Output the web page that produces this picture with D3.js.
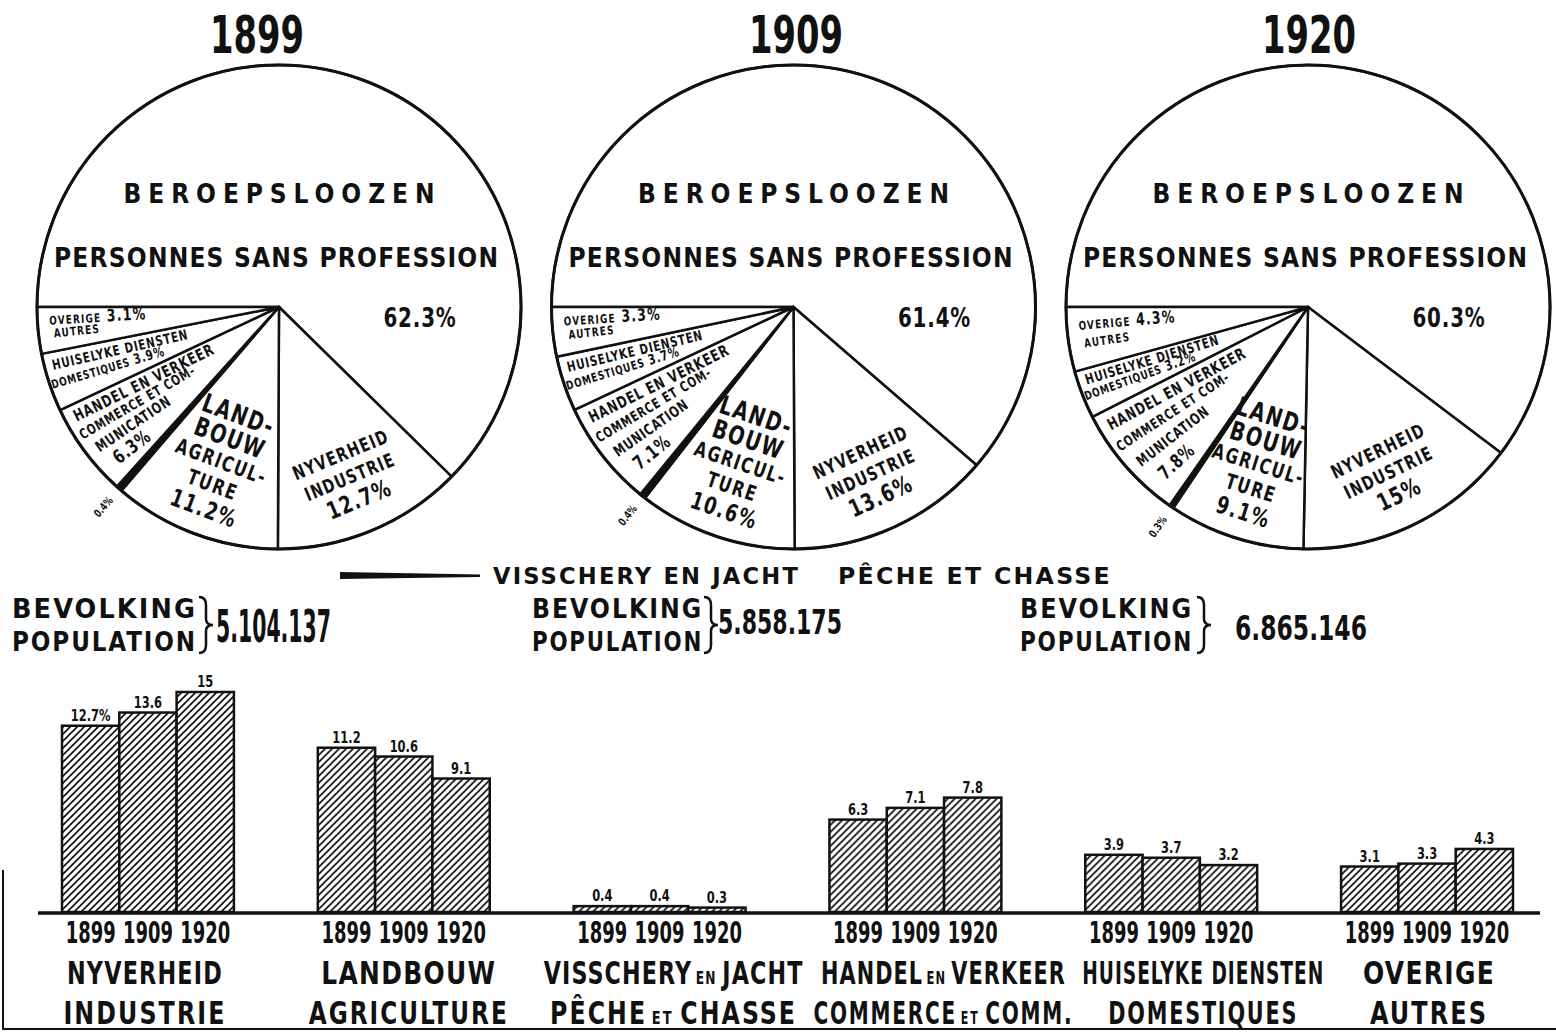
<!DOCTYPE html>
<html>
<head>
<meta charset="utf-8">
<script src="https://cdn.jsdelivr.net/npm/d3@7"></script>
<style>
body { margin: 0; background: #fff; }
svg { display: block; }
text { font-family: "Liberation Sans Narrow", "DejaVu Sans Condensed", sans-serif; font-weight: bold; fill: #111; }
</style>
</head>
<body>
<svg id="chart" width="1556" height="1032"></svg>
<script>
// ---- data ----
var years = ["1899", "1909", "1920"];
var pieKeys = ["beroepsloozen", "nyverheid", "landbouw", "visschery", "handel", "huiselyke", "overige"];
var share1899 = [62.3, 12.7, 11.2, 0.4, 6.3, 3.9, 3.1];
var share1909 = [61.4, 13.6, 10.6, 0.4, 7.1, 3.7, 3.3];
var share1920 = [60.3, 15, 9.1, 0.3, 7.8, 3.2, 4.3];
var population = ["5.104.137", "5.858.175", "6.865.146"];
var mainLabel = ["BEROEPSLOOZEN", "PERSONNES SANS PROFESSION"];
var pieLabelLines = {
  nyverheid: ["NYVERHEID", "INDUSTRIE"],
  landbouw: ["LAND-", "BOUW", "AGRICUL-", "TURE"],
  visschery: [],
  handel: ["HANDEL EN VERKEER", "COMMERCE ET COM-", "MUNICATION"],
  huiselyke: ["HUISELYKE DIENSTEN", "DOMESTIQUES"],
  overige: ["OVERIGE", "AUTRES"]
};
var legendLabel = ["VISSCHERY EN JACHT", "PÊCHE ET CHASSE"];
var popLabel = ["BEVOLKING", "POPULATION"];
var barCatsNl = ["NYVERHEID", "LANDBOUW", "VISSCHERY EN JACHT", "HANDEL EN VERKEER", "HUISELYKE DIENSTEN", "OVERIGE"];
var barCatsFr = ["INDUSTRIE", "AGRICULTURE", "PÊCHE ET CHASSE", "COMMERCE ET COMM.", "DOMESTIQUES", "AUTRES"];

// ---- layout ----
var shares = [share1899, share1909, share1920];
var svg = d3.select("#chart");
var pieY = 307, R = 242;

// "across" labels: a block centred on the slice, lines perpendicular to the radius
// "along" labels: each line placed on its own angle/radius, running along the slice
var pieStyle = {
  nyverheid: { orient: "across", rf: 0.76, sizes: [19, 19], pct: 24, lh: 24, ls: 1.5 },
  landbouw:  { orient: "across", rf: 0.68, sizes: [26, 26, 21, 21], pct: 24, lh: 25, ls: 2 },
  visschery: { orient: "along", r0: 1.1, dr: 0, f0: 0.5, df: 0, fr: 0.5, sizes: [], pct: 11, ls: 0 },
  handel:    { orient: "along", r0: 0.64, dr: 16, f0: 0.17, df: 0.21, fr: 0.05, sizes: [16, 14, 15], pct: 19, ls: 1 },
  huiselyke: { orient: "along", r0: 0.68, dr: 17, f0: 0.27, df: 0.33, fr: 0.12, sizes: [14, 12], pct: 14, ls: 1, inline: 1 },
  overige:   { orient: "along", r0: 0.75, dr: 22, f0: 0.3, df: 0.3, fr: 0.3, sizes: [12, 12], pct: 17, ls: 1.5, inline: 0 }
};

// compress a text horizontally, like a narrow lettering
function squeeze(sel, f, w) {
  sel.each(function() {
    var t = d3.select(this);
    var L = this.getComputedTextLength();
    var k = w ? w / L : f;
    var x = +t.attr("x") || 0, y = +t.attr("y") || 0;
    var tr = t.attr("transform") || "";
    t.attr("x", 0).attr("y", 0)
     .attr("transform", "translate(" + x + "," + y + ") " + tr + " scale(" + k + ",1)");
  });
}

var defs = svg.append("defs");
var pat = defs.append("pattern")
    .attr("id", "hatch")
    .attr("patternUnits", "userSpaceOnUse")
    .attr("width", 7)
    .attr("height", 7);
pat.append("rect").attr("width", 7).attr("height", 7).attr("fill", "#fff");
pat.append("path")
    .attr("d", "M-1,1 l2,-2 M0,7 l7,-7 M6,8 l2,-2")
    .attr("stroke", "#111")
    .attr("stroke-width", 1.7);

// ---- pies ----
var pieX = d3.scalePoint().domain(years).range([279, 1308]);
var titleX = [257, 796, 1309];
var pie = d3.pie().sort(null).value(function(d) { return d.v; })
    .startAngle(-Math.PI / 2).endAngle(1.5 * Math.PI);
var arc = d3.arc().innerRadius(0).outerRadius(R);

years.forEach(function(yr, yi) {
  var cx = pieX(yr);
  var data = pieKeys.map(function(k, i) { return { key: k, v: shares[yi][i] }; });
  var g = svg.append("g").attr("transform", "translate(" + cx + "," + pieY + ")");

  svg.append("text")
      .attr("x", titleX[yi]).attr("y", 53)
      .attr("text-anchor", "middle")
      .attr("font-size", 52)
      .attr("textLength", 94).attr("lengthAdjust", "spacingAndGlyphs")
      .text(yr);

  g.selectAll("path.slice")
    .data(pie(data))
    .enter().append("path")
      .attr("class", "slice")
      .attr("d", arc)
      .attr("fill", function(d) { return d.data.key == "visschery" ? "#111" : "#fff"; })
      .attr("stroke", "#111")
      .attr("stroke-width", 2.5)
      .attr("stroke-linejoin", "round");

  g.append("circle").attr("r", R).attr("fill", "none").attr("stroke", "#111").attr("stroke-width", 3);

  // big slice
  g.append("text").attr("x", 0).attr("y", -104).attr("text-anchor", "middle")
      .attr("font-size", 26).attr("textLength", 311).attr("lengthAdjust", "spacing")
      .text(mainLabel[0]);
  g.append("text").attr("x", -3).attr("y", -40).attr("text-anchor", "middle")
      .attr("font-size", 26).attr("textLength", 444).attr("lengthAdjust", "spacing")
      .text(mainLabel[1]);
  g.append("text").attr("x", 141).attr("y", 20).attr("text-anchor", "middle")
      .attr("font-size", 26).attr("letter-spacing", 1)
      .text(shares[yi][0] + "%")
      .call(squeeze, 0.85);

  // smaller slices
  pie(data).slice(1).forEach(function(d) {
    var st = pieStyle[d.data.key];
    var pct = d.data.v + "%";
    var span = d.endAngle - d.startAngle;
    var lines = pieLabelLines[d.data.key].map(function(t, i) {
      return { t: t, s: st.sizes[i], p: st.inline === i };
    });
    if (st.inline === undefined) lines.push({ t: pct, s: st.pct, p: false });
    var n = lines.length;

    lines.forEach(function(l, i) {
      var a, r, rot, dy;
      if (st.orient == "along") {
        a = d.endAngle - (st.f0 + st.df * i) * span;
        r = st.r0 * R + st.dr * i;
        rot = (d.endAngle - (st.fr + st.df * i * 0.8) * span) * 180 / Math.PI - 270;
        dy = 0;
      } else {
        a = (d.startAngle + d.endAngle) / 2;
        r = st.rf * R;
        rot = a * 180 / Math.PI - 180;
        dy = (i - (n - 1) / 2) * st.lh;
      }
      var px = Math.sin(a) * r, py = -Math.cos(a) * r;
      var lg = g.append("g").attr("transform", "translate(" + px + "," + py + ") rotate(" + rot + ")");
      var t = lg.append("text")
          .attr("x", 0)
          .attr("y", dy + l.s * 0.36)
          .attr("text-anchor", "middle")
          .attr("font-size", l.s)
          .attr("letter-spacing", st.ls);
      t.append("tspan").text(l.t);
      if (l.p) t.append("tspan").attr("font-size", st.pct).text(" " + pct);
      t.call(squeeze, 0.82);
    });
  });
});

// ---- legend for fishing ----
svg.append("path")
    .attr("d", "M340,572 L480,574.5 L480,577 L340,579 Z")
    .attr("fill", "#111");
svg.append("text").attr("x", 493).attr("y", 584).attr("font-size", 23)
    .attr("textLength", 307).attr("lengthAdjust", "spacingAndGlyphs").attr("letter-spacing", 2).text(legendLabel[0]);
svg.append("text").attr("x", 838).attr("y", 584).attr("font-size", 23)
    .attr("textLength", 274).attr("lengthAdjust", "spacingAndGlyphs").attr("letter-spacing", 2).text(legendLabel[1]);

// ---- population ----
var popLeft = [12, 532, 1020];
var popLen = [185, 171, 173];
var braceX = [199, 704, 1197];
var numLeft = [216, 718, 1235];
var numBase = [642, 634, 640];
var numSize = [44, 34, 34];
var numLen = [115, 124, 132];
function brace(x, y0, y1, w) {
  var m = (y0 + y1) / 2, h = w / 2;
  return "M" + x + "," + y0 + " Q" + (x + h) + "," + y0 + " " + (x + h) + "," + (y0 + 8) +
    " L" + (x + h) + "," + (m - 6) + " Q" + (x + h) + "," + m + " " + (x + w) + "," + m +
    " Q" + (x + h) + "," + m + " " + (x + h) + "," + (m + 6) +
    " L" + (x + h) + "," + (y1 - 8) + " Q" + (x + h) + "," + y1 + " " + x + "," + y1;
}
years.forEach(function(yr, yi) {
  svg.append("text").attr("x", popLeft[yi]).attr("y", 618).attr("font-size", 27)
      .attr("letter-spacing", 2)
      .attr("textLength", popLen[yi]).attr("lengthAdjust", "spacingAndGlyphs").text(popLabel[0]);
  svg.append("text").attr("x", popLeft[yi]).attr("y", 651).attr("font-size", 27)
      .attr("letter-spacing", 2)
      .attr("textLength", popLen[yi]).attr("lengthAdjust", "spacingAndGlyphs").text(popLabel[1]);
  svg.append("path")
      .attr("d", brace(braceX[yi], 597, 653, 14))
      .attr("fill", "none").attr("stroke", "#111").attr("stroke-width", 2.5);
  svg.append("text").attr("x", numLeft[yi]).attr("y", numBase[yi]).attr("font-size", numSize[yi])
      .attr("textLength", numLen[yi]).attr("lengthAdjust", "spacingAndGlyphs").text(population[yi]);
});

// ---- bars ----
var barKeys = pieKeys.slice(1);
var x0 = d3.scaleBand().domain(barKeys).range([62, 1513]).paddingInner(0.328).paddingOuter(0);
var x1 = d3.scaleBand().domain(years).range([0, x0.bandwidth()]);
var y = d3.scaleLinear().domain([0, 15]).range([912, 692]);

var groups = svg.selectAll("g.grp")
  .data(barKeys)
  .enter().append("g")
    .attr("class", "grp")
    .attr("transform", function(k) { return "translate(" + x0(k) + ",0)"; });

function groupRows(k) {
  var ci = pieKeys.indexOf(k);
  return years.map(function(yr, yi) { return { key: k, yr: yr, v: shares[yi][ci], first: ci == 1 && yi == 0 }; });
}

groups.selectAll("rect")
  .data(groupRows)
  .enter().append("rect")
    .attr("x", function(d) { return x1(d.yr); })
    .attr("y", function(d) { return y(d.v); })
    .attr("width", x1.bandwidth())
    .attr("height", function(d) { return y(0) - y(d.v); })
    .attr("fill", "url(#hatch)")
    .attr("stroke", "#111")
    .attr("stroke-width", 2.5);

groups.selectAll("text.val")
  .data(groupRows)
  .enter().append("text")
    .attr("class", "val")
    .attr("x", function(d) { return x1(d.yr) + x1.bandwidth() / 2; })
    .attr("y", function(d) { return y(d.v) - 5; })
    .attr("text-anchor", "middle")
    .attr("font-size", 15)
    .text(function(d) { return d.first ? d.v + "%" : d.v; })
    .call(squeeze, 0.85);

groups.append("g")
    .attr("transform", "translate(0," + (y(0) + 8) + ")")
    .call(d3.axisBottom(x1).tickSize(0).tickPadding(2))
    .call(function(a) { a.select(".domain").remove(); })
    .selectAll("text")
      .attr("font-size", 30)
      .attr("font-family", null)
      .attr("fill", "#111")
      .call(squeeze, 1, 50);

svg.append("line")
    .attr("x1", 38).attr("x2", 1540)
    .attr("y1", y(0) + 1).attr("y2", y(0) + 1)
    .attr("stroke", "#111").attr("stroke-width", 3.5);

// category names, small connecting words
var smallWords = ["EN", "ET"];
var catShift = [-3, 5, 14, 28, 32, 2];
var catLenNl = [156, 175, 260, 245, 242, 132];
var catLenFr = [163, 200, 247, 260, 190, 118];
function catLabel(sel, str, size) {
  var words = str.split(" ");
  words.forEach(function(w, i) {
    var small = smallWords.indexOf(w) >= 0;
    var prevSmall = i > 0 && smallWords.indexOf(words[i - 1]) >= 0;
    sel.append("tspan")
        .attr("font-size", small ? size * 0.55 : size)
        .text((i > 0 ? (small || prevSmall ? "\u2009" : " ") : "") + w);
  });
}
barKeys.forEach(function(k, i) {
  var cx = x0(k) + x0.bandwidth() / 2 + catShift[i];
  var t1 = svg.append("text").attr("x", cx).attr("y", 984).attr("text-anchor", "middle")
      .attr("font-size", 32).attr("letter-spacing", 1.5);
  catLabel(t1, barCatsNl[i], 32);
  t1.call(squeeze, 1, catLenNl[i]);
  var t2 = svg.append("text").attr("x", cx).attr("y", 1024).attr("text-anchor", "middle")
      .attr("font-size", 32).attr("letter-spacing", 2.5);
  catLabel(t2, barCatsFr[i], 32);
  t2.call(squeeze, 1, catLenFr[i]);
});

// frame
svg.append("path")
    .attr("d", "M3,870 L3,1029 L1556,1029")
    .attr("fill", "none").attr("stroke", "#111").attr("stroke-width", 2);
</script>
</body>
</html>
